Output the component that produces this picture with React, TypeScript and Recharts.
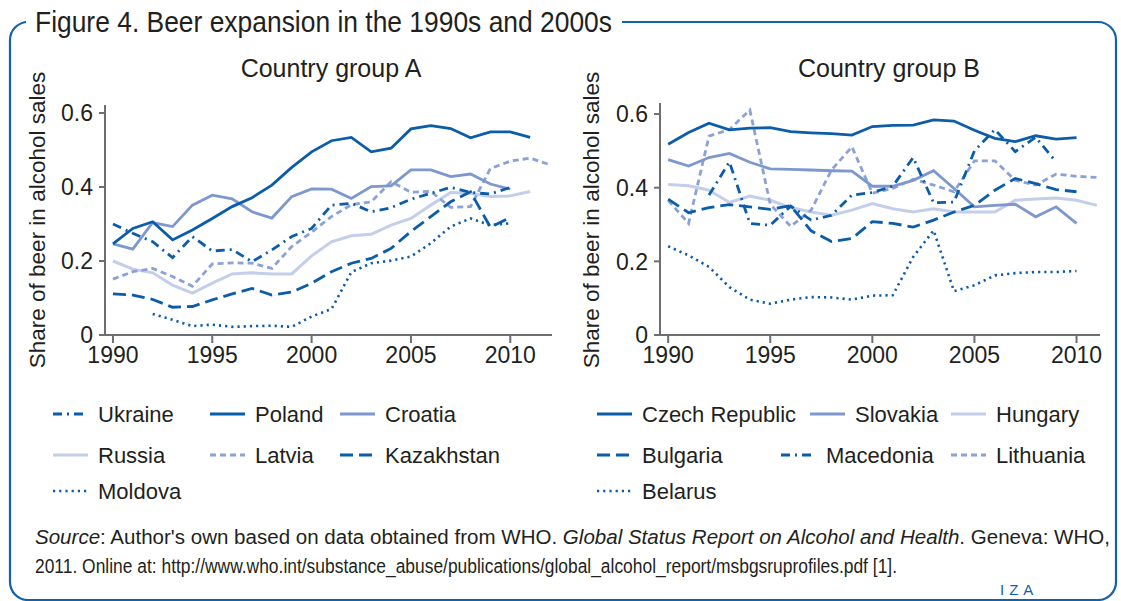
import React from 'react';
import { LineChart, Line, XAxis, YAxis } from 'recharts';

// ---------- colours & styles ----------
const DARK = '#0b5ca9';
const MED = '#7d97cf';
const MEDDASH = '#8aa2d5';
const LIGHT = '#c3cee9';
const TEXT = '#231f20';
const AXIS = '#6d6e71';
const FRAME = '#1261ab';
const FONT = '"Liberation Sans", Arial, Helvetica, sans-serif';

const DASHDOT = '9 5 2 5';
const LONGDASH = '13 6';
const SHORTDASH = '6 4';
const DOTTED = '2.2 4';

// ---------- data: Country group A ----------
const yearsA = [1990, 1991, 1992, 1993, 1994, 1995, 1996, 1997, 1998, 1999, 2000, 2001, 2002, 2003, 2004, 2005, 2006, 2007, 2008, 2009, 2010, 2011, 2012];
const ukraine = [0.300, 0.275, 0.252, 0.209, 0.266, 0.227, 0.231, 0.198, 0.230, 0.266, 0.288, 0.351, 0.356, 0.333, 0.344, 0.367, 0.383, 0.399, 0.385, 0.381, 0.399, null, null];
const poland = [0.246, 0.288, 0.306, 0.257, 0.284, 0.315, 0.347, 0.371, 0.405, 0.453, 0.495, 0.525, 0.534, 0.495, 0.505, 0.557, 0.566, 0.558, 0.533, 0.549, 0.549, 0.534, null];
const croatia = [0.246, 0.232, 0.304, 0.293, 0.351, 0.378, 0.368, 0.333, 0.316, 0.374, 0.395, 0.394, 0.369, 0.401, 0.403, 0.446, 0.446, 0.428, 0.435, 0.408, 0.394, null, null];
const russia = [0.200, 0.178, 0.168, 0.135, 0.113, 0.140, 0.165, 0.168, 0.165, 0.165, 0.214, 0.252, 0.268, 0.272, 0.297, 0.315, 0.351, 0.385, 0.383, 0.374, 0.376, 0.388, null];
const latvia = [0.151, 0.171, 0.180, 0.158, 0.132, 0.192, 0.195, 0.194, 0.180, 0.239, 0.278, 0.320, 0.352, 0.360, 0.414, 0.386, 0.388, 0.345, 0.347, 0.450, 0.470, 0.478, 0.460];
const kazakhstan = [0.111, 0.108, 0.096, 0.075, 0.077, 0.095, 0.111, 0.126, 0.108, 0.116, 0.140, 0.171, 0.194, 0.207, 0.234, 0.280, 0.320, 0.360, 0.387, 0.291, 0.318, null, null];
const moldova = [null, null, 0.057, 0.041, 0.024, 0.028, 0.022, 0.024, 0.025, 0.022, 0.050, 0.070, 0.170, 0.194, 0.201, 0.212, 0.248, 0.293, 0.315, 0.297, 0.302, null, null];

// ---------- data: Country group B ----------
const yearsB = [1990, 1991, 1992, 1993, 1994, 1995, 1996, 1997, 1998, 1999, 2000, 2001, 2002, 2003, 2004, 2005, 2006, 2007, 2008, 2009, 2010, 2011];
const czech = [0.518, 0.550, 0.575, 0.557, 0.562, 0.563, 0.552, 0.549, 0.547, 0.543, 0.566, 0.569, 0.570, 0.584, 0.581, 0.556, 0.534, 0.525, 0.541, 0.532, 0.536, null];
const slovakia = [0.476, 0.459, 0.482, 0.493, 0.469, 0.451, 0.450, 0.448, 0.446, 0.445, 0.404, 0.404, 0.420, 0.446, 0.398, 0.348, 0.352, 0.355, 0.321, 0.348, 0.303, null];
const hungary = [0.409, 0.405, 0.393, 0.360, 0.377, 0.366, 0.346, 0.334, 0.325, 0.339, 0.357, 0.343, 0.334, 0.343, 0.334, 0.334, 0.334, 0.366, 0.369, 0.372, 0.366, 0.352];
const bulgaria = [0.369, 0.332, 0.346, 0.354, 0.348, 0.341, 0.351, 0.283, 0.254, 0.262, 0.308, 0.303, 0.293, 0.312, 0.334, 0.352, 0.393, 0.425, 0.411, 0.395, 0.389, null];
const macedonia = [null, null, 0.380, 0.470, 0.303, 0.298, 0.350, 0.312, 0.325, 0.380, 0.387, 0.404, 0.482, 0.359, 0.361, 0.500, 0.558, 0.498, 0.537, 0.470, null, null];
const lithuania = [0.366, 0.303, 0.540, 0.558, 0.611, 0.355, 0.295, 0.339, 0.448, 0.511, 0.385, 0.398, 0.423, 0.407, 0.389, 0.473, 0.473, 0.420, 0.407, 0.437, 0.431, 0.428];
const belarus = [0.241, 0.216, 0.185, 0.130, 0.096, 0.085, 0.096, 0.103, 0.102, 0.096, 0.107, 0.108, 0.212, 0.284, 0.119, 0.135, 0.162, 0.168, 0.171, 0.171, 0.174, null];

// ---------- ticks ----------
const xTicks = [1990, 1995, 2000, 2005, 2010];
const yTicks = [0, 0.2, 0.4, 0.6];

// ---------- series definitions ----------
type Series = { name: string; values: (number | null)[]; color: string; dash?: string; width: number };

const seriesA: Series[] = [
  { name: 'Russia', values: russia, color: LIGHT, width: 3 },
  { name: 'Latvia', values: latvia, color: MEDDASH, dash: SHORTDASH, width: 2.8 },
  { name: 'Croatia', values: croatia, color: MED, width: 2.8 },
  { name: 'Moldova', values: moldova, color: DARK, dash: DOTTED, width: 2.6 },
  { name: 'Kazakhstan', values: kazakhstan, color: DARK, dash: LONGDASH, width: 2.8 },
  { name: 'Ukraine', values: ukraine, color: DARK, dash: DASHDOT, width: 2.8 },
  { name: 'Poland', values: poland, color: DARK, width: 2.8 },
];

const seriesB: Series[] = [
  { name: 'Hungary', values: hungary, color: LIGHT, width: 3 },
  { name: 'Lithuania', values: lithuania, color: MEDDASH, dash: SHORTDASH, width: 2.8 },
  { name: 'Slovakia', values: slovakia, color: MED, width: 2.8 },
  { name: 'Belarus', values: belarus, color: DARK, dash: DOTTED, width: 2.6 },
  { name: 'Bulgaria', values: bulgaria, color: DARK, dash: LONGDASH, width: 2.8 },
  { name: 'Macedonia', values: macedonia, color: DARK, dash: DASHDOT, width: 2.8 },
  { name: 'Czech Republic', values: czech, color: DARK, width: 2.8 },
];

const buildRows = (years: number[], series: Series[]) =>
  years.map((year, i) => {
    const row: Record<string, number | null> = { year };
    series.forEach((s) => {
      row[s.name] = s.values[i];
    });
    return row;
  });

const dataA = buildRows(yearsA, seriesA);
const dataB = buildRows(yearsB, seriesB);

// ---------- legend layout ----------
const legendOrderA = ['Ukraine', 'Poland', 'Croatia', 'Russia', 'Latvia', 'Kazakhstan', 'Moldova'];
const legendOrderB = ['Czech Republic', 'Slovakia', 'Hungary', 'Bulgaria', 'Macedonia', 'Lithuania', 'Belarus'];
const legendPosA = [
  [53, 0], [210, 0], [340, 0],
  [53, 1], [210, 1], [340, 1],
  [53, 2],
];
const legendPosB = [
  [597, 0], [810, 0], [951, 0],
  [597, 1], [781, 1], [951, 1],
  [597, 2],
];
const legendRowY = [414, 455, 491];

const fmtY = (v: number) => (v === 0 ? '0' : v.toFixed(1));

function Panel(props: {
  data: Record<string, number | null>[];
  series: Series[];
  xDomain: [number, number];
  yMax: number;
  width: number;
  margin: { top: number; right: number; bottom: number; left: number };
}) {
  const { data, series, xDomain, yMax, width, margin } = props;
  return (
    <LineChart width={width} height={380} data={data} margin={margin}>
      <XAxis
        dataKey="year"
        type="number"
        domain={xDomain}
        allowDataOverflow
        ticks={xTicks}
        interval={0}
        height={40}
        tickSize={8}
        tickMargin={4}
        axisLine={{ stroke: AXIS, strokeWidth: 2 }}
        tickLine={{ stroke: AXIS, strokeWidth: 2 }}
        tick={{ fill: TEXT, fontSize: 23, fontFamily: FONT }}
      />
      <YAxis
        type="number"
        domain={[0, yMax]}
        allowDataOverflow
        ticks={yTicks}
        interval={0}
        width={60}
        tickSize={6}
        tickMargin={6}
        tickFormatter={fmtY}
        axisLine={{ stroke: AXIS, strokeWidth: 2 }}
        tickLine={{ stroke: AXIS, strokeWidth: 2 }}
        tick={{ fill: TEXT, fontSize: 23, fontFamily: FONT }}
      />
      {series.map((s) => (
        <Line
          key={s.name}
          type="linear"
          dataKey={s.name}
          stroke={s.color}
          strokeWidth={s.width}
          strokeDasharray={s.dash}
          dot={false}
          activeDot={false}
          connectNulls={false}
          isAnimationActive={false}
        />
      ))}
    </LineChart>
  );
}

function Legend(props: { order: string[]; pos: number[][]; series: Series[] }) {
  const { order, pos, series } = props;
  return (
    <g>
      {order.map((name, i) => {
        const s = series.find((q) => q.name === name)!;
        const [x, row] = pos[i];
        const y = legendRowY[row];
        return (
          <g key={name}>
            <line x1={x} x2={x + 35} y1={y} y2={y} stroke={s.color} strokeWidth={s.width} strokeDasharray={s.dash} />
            <text x={x + 45} y={y + 8} fontSize={22} fill={TEXT} fontFamily={FONT}>
              {name}
            </text>
          </g>
        );
      })}
    </g>
  );
}

export default function App() {
  return (
    <div style={{ position: 'absolute', left: 0, top: 0, width: 1121, height: 601, background: '#fff', overflow: 'hidden' }}>
      <svg width={1121} height={601} style={{ position: 'absolute', left: 0, top: 0 }}>
        <rect x={10} y={22} width={1106} height={578} rx={18} ry={18} fill="none" stroke={FRAME} strokeWidth={2.2} />
        <rect x={26} y={6} width={596} height={34} fill="#fff" />
        <text x={35} y={32} fontSize={30} fill={TEXT} fontFamily={FONT} textLength={577} lengthAdjust="spacingAndGlyphs">
          Figure 4. Beer expansion in the 1990s and 2000s
        </text>
        <text x={331} y={77} fontSize={25} fill={TEXT} fontFamily={FONT} textAnchor="middle">
          Country group A
        </text>
        <text x={889} y={77} fontSize={25} fill={TEXT} fontFamily={FONT} textAnchor="middle">
          Country group B
        </text>
        <text x={37} y={220} fontSize={22.5} fill={TEXT} fontFamily={FONT} textAnchor="middle" dy="0.35em" transform="rotate(-90 37 220)">
          Share of beer in alcohol sales
        </text>
        <text x={591} y={220} fontSize={22.5} fill={TEXT} fontFamily={FONT} textAnchor="middle" dy="0.35em" transform="rotate(-90 591 220)">
          Share of beer in alcohol sales
        </text>
        <Legend order={legendOrderA} pos={legendPosA} series={seriesA} />
        <Legend order={legendOrderB} pos={legendPosB} series={seriesB} />
        <text x={35} y={544} fontSize={20} fill={TEXT} fontFamily={FONT} textLength={1075} lengthAdjust="spacingAndGlyphs">
          <tspan fontStyle="italic">Source</tspan>
          <tspan>: Author's own based on data obtained from WHO. </tspan>
          <tspan fontStyle="italic">Global Status Report on Alcohol and Health</tspan>
          <tspan>. Geneva: WHO,</tspan>
        </text>
        <text x={35} y={573} fontSize={20} fill={TEXT} fontFamily={FONT} textLength={862} lengthAdjust="spacingAndGlyphs">
          2011. Online at: http://www.who.int/substance_abuse/publications/global_alcohol_report/msbgsruprofiles.pdf [1].
        </text>
        <text x={1000} y={595} fontSize={15} fill={FRAME} fontFamily={FONT} letterSpacing={5}>
          IZA
        </text>
      </svg>
      <div style={{ position: 'absolute', left: 0, top: 0 }}>
        <Panel data={dataA} series={seriesA} xDomain={[1989.6, 2012.1]} yMax={0.6216} width={570} margin={{ top: 105, right: 18, bottom: 5, left: 45 }} />
      </div>
      <div style={{ position: 'absolute', left: 560, top: 0 }}>
        <Panel data={dataB} series={seriesB} xDomain={[1989.6, 2011.15]} yMax={0.63} width={560} margin={{ top: 103, right: 20, bottom: 5, left: 40 }} />
      </div>
    </div>
  );
}
